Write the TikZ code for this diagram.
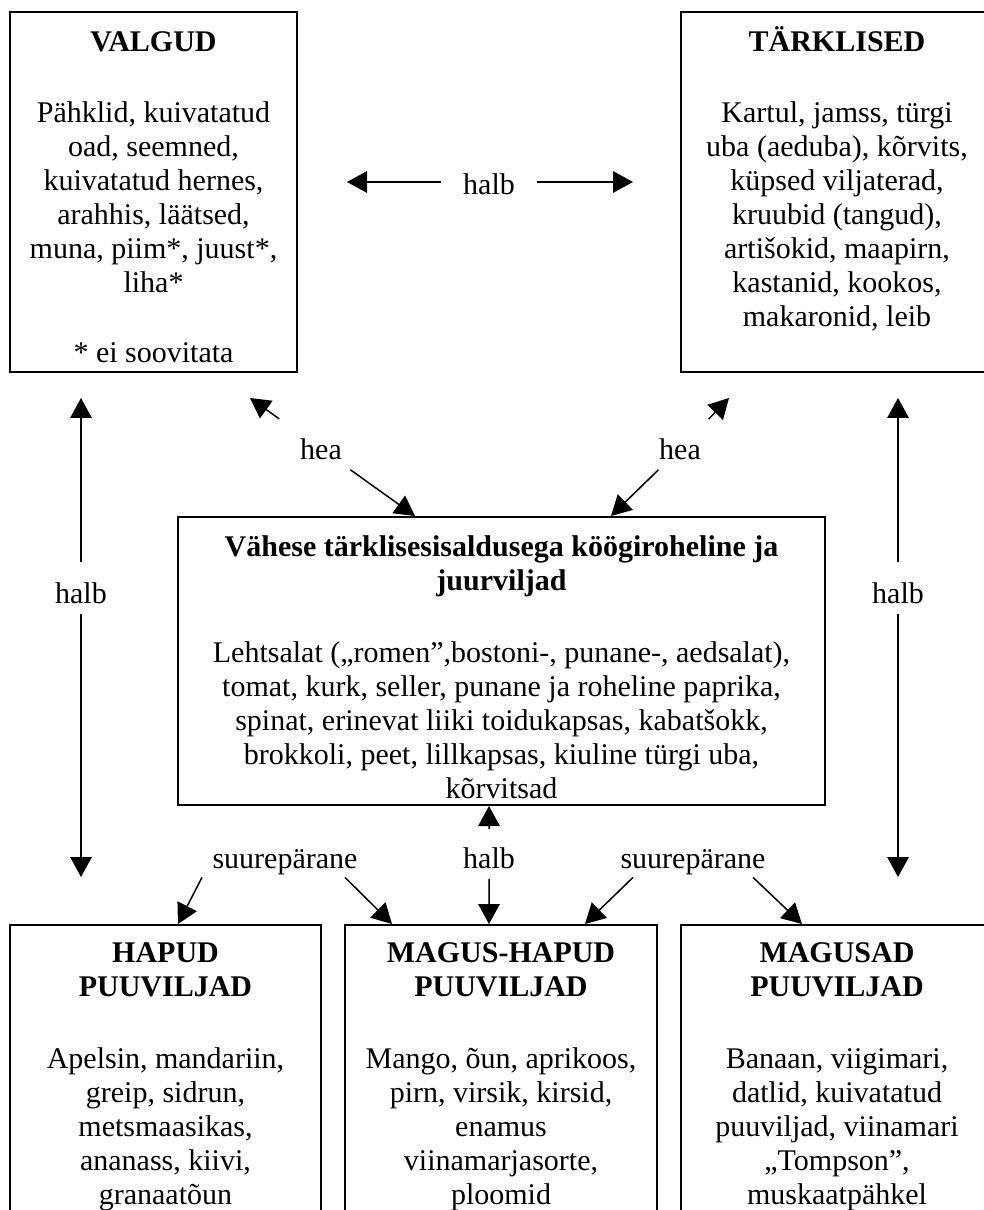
\documentclass[tikz,border=0pt]{standalone}
\usepackage{fontspec}
\setmainfont{Liberation Serif}
\usetikzlibrary{arrows.meta,positioning}
\newcommand{\titlestrut}{\rule{0pt}{11pt}}

\begin{document}
\begin{tikzpicture}[
      x=0.4pt, y=-0.4pt,
      font=\fontsize{12pt}{13.6pt}\selectfont,
      box/.style={rectangle, draw, line width=0.8pt, inner sep=0pt},
      txt/.style={anchor=north, align=center, inner sep=0pt},
      lbl/.style={inner sep=4pt, anchor=base},
      arrow/.style={-{Triangle[length=8pt, width=8.6pt]}, line width=0.6pt},
    ]
    \useasboundingbox (0,0) rectangle (983,1210);

    % food group boxes
    \node[box, minimum width=114.8pt, minimum height=144pt]   (valgud)    at (153.5,192)  {};
    \node[box, minimum width=124.8pt, minimum height=144pt]   (tarklised) at (837,192)    {};
    \node[box, minimum width=258.8pt, minimum height=115.2pt] (veg)       at (501.5,661)  {};
    \node[box, minimum width=124.4pt, minimum height=126pt]   (hapud)     at (165.5,1082.5) {};
    \node[box, minimum width=124.8pt, minimum height=126pt]   (mh)        at (501,1082.5) {};
    \node[box, minimum width=124.8pt, minimum height=126pt]   (magusad)   at (837,1082.5) {};

    \node[txt] (valgudtxt) at ([yshift=-5pt]valgud.north)
      {\titlestrut\textbf{VALGUD}\\[15pt] Pähklid, kuivatatud\\ oad, seemned,\\ kuivatatud hernes,\\
       arahhis, läätsed,\\ muna, piim*, juust*,\\ liha*\\[14pt] * ei soovitata};
    \node[txt] (tarklisedtxt) at ([yshift=-5pt]tarklised.north)
      {\titlestrut\textbf{TÄRKLISED}\\[15pt] Kartul, jamss, türgi\\ uba (aeduba), kõrvits,\\ küpsed viljaterad,\\
       kruubid (tangud),\\ artišokid, maapirn,\\ kastanid, kookos,\\ makaronid, leib};
    \node[txt] (vegtxt) at ([yshift=-5pt]veg.north)
      {\titlestrut\textbf{Vähese tärklisesisaldusega köögiroheline ja}\\ \textbf{juurviljad}\\[15pt]
       Lehtsalat („romen”,bostoni-, punane-, aedsalat),\\ tomat, kurk, seller, punane ja roheline paprika,\\
       spinat, erinevat liiki toidukapsas, kabatšokk,\\ brokkoli, peet, lillkapsas, kiuline türgi uba,\\ kõrvitsad};
    \node[txt] (hapudtxt) at ([yshift=-4.2pt]hapud.north)
      {\titlestrut\textbf{HAPUD}\\ \textbf{PUUVILJAD}\\[15pt] Apelsin, mandariin,\\ greip, sidrun,\\ metsmaasikas,\\
       ananass, kiivi,\\ granaatõun};
    \node[txt] (mhtxt) at ([yshift=-4.2pt]mh.north)
      {\titlestrut\textbf{MAGUS-HAPUD}\\ \textbf{PUUVILJAD}\\[15pt] Mango, õun, aprikoos,\\ pirn, virsik, kirsid,\\ enamus\\
       viinamarjasorte,\\ ploomid};
    \node[txt] (magusadtxt) at ([yshift=-4.2pt]magusad.north)
      {\titlestrut\textbf{MAGUSAD}\\ \textbf{PUUVILJAD}\\[15pt] Banaan, viigimari,\\ datlid, kuivatatud\\ puuviljad, viinamari\\
       „Tompson”,\\ muskaatpähkel};

    % labels
    \node[lbl, inner xsep=8.8pt] (halbT) at (489,195) {halb};
    \node[lbl] (halbL) at (81,603)  {halb};
    \node[lbl] (halbR) at (898,603) {halb};
    \node[lbl] (heaL)  at (321,459) {hea};
    \node[lbl] (heaR)  at (680,459) {hea};
    \node[lbl] (halbB) at (489,868) {halb};
    \node[lbl, inner sep=1pt] (supL) at (285,868) {suurepärane};
    \node[lbl, inner sep=1pt] (supR) at (693,868) {suurepärane};

    % arrow ends
    \coordinate (halbTL) at (347,182);
    \coordinate (halbTR) at (633,182);
    \coordinate (heaLtip) at (250,398);
    \coordinate (heaRtip) at (729,398);
    \coordinate (halbLup) at (81,398);
    \coordinate (halbLdn) at (81,877);
    \coordinate (halbRup) at (898,398);
    \coordinate (halbRdn) at (898,877);
    \coordinate (vgInL) at ([xshift=-34.6pt]veg.north);
    \coordinate (vgInR) at ([xshift=43.8pt]veg.north);
    \coordinate (vgOut) at ([xshift=-5pt]veg.south);
    \coordinate (hapIn) at ([xshift=5pt]hapud.north);
    \coordinate (mhInL) at ([xshift=-43.6pt]mh.north);
    \coordinate (mhInM) at ([xshift=-4.8pt]mh.north);
    \coordinate (mhInR) at ([xshift=33.6pt]mh.north);
    \coordinate (magIn) at ([xshift=-14pt]magusad.north);

    \draw[arrow] (halbT.west |- halbTL) -- (halbTL);
    \draw[arrow] (halbT.east |- halbTR) -- (halbTR);

    \draw[arrow, shorten <=3.8pt] (halbL) -- (halbLup);
    \draw[arrow] (halbL) -- (halbLdn);
    \draw[arrow, shorten <=3.8pt] (halbR) -- (halbRup);
    \draw[arrow] (halbR) -- (halbRdn);

    \draw[arrow, shorten <=6pt] (heaL) -- (heaLtip);
    \draw[arrow] (heaL) -- (vgInL);
    \draw[arrow, shorten <=4.8pt] (heaR) -- (heaRtip);
    \draw[arrow] (heaR) -- (vgInR);

    \draw[arrow, shorten <=3pt] (halbB) -- (vgOut);
    \draw[arrow] (halbB) -- (mhInM);

    \draw[arrow] ([xshift=-33.2pt]supL.south) -- (hapIn);
    \draw[arrow] ([xshift=24pt]supL.south) -- (mhInL);
    \draw[arrow] ([xshift=-24pt]supR.south) -- (mhInR);
    \draw[arrow] ([xshift=24pt]supR.south) -- (magIn);
  \end{tikzpicture}
\end{document}
